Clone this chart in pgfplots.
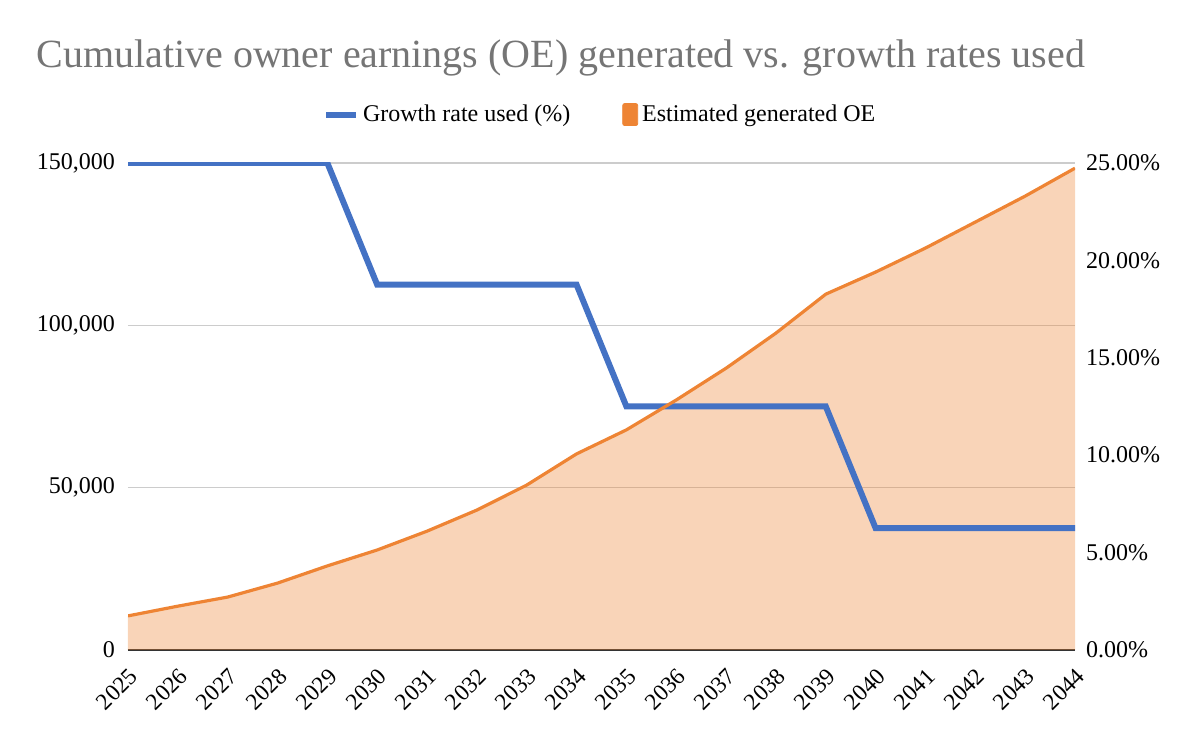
\documentclass[border=0pt]{standalone}
\usepackage{pgfplots}
\usepackage{pgfplotstable}
\pgfplotsset{compat=1.18}
\usepackage{fontspec}
\setmainfont{Liberation Serif}
\definecolor{oeorange}{HTML}{EE8434}
\definecolor{grblue}{HTML}{4472C4}
\definecolor{gridgray}{HTML}{CCCCCC}
\definecolor{titlegray}{HTML}{757575}
\pgfplotstableread{
x oe
2025 10500
2026 13500
2027 16300
2028 20600
2029 25900
2030 30800
2031 36600
2032 43100
2033 50800
2034 60400
2035 67800
2036 77000
2037 86800
2038 97600
2039 109600
2040 116400
2041 123800
2042 131800
2043 139800
2044 148400
}\oedata
\pgfplotstableread{
x g
2025 25
2026 25
2027 25
2028 25
2029 25
2030 18.75
2031 18.75
2032 18.75
2033 18.75
2034 18.75
2035 12.5
2036 12.5
2037 12.5
2038 12.5
2039 12.5
2040 6.25
2041 6.25
2042 6.25
2043 6.25
2044 6.25
}\grdata
\begin{document}
\begin{tikzpicture}[x=1pt,y=1pt]
\useasboundingbox (0,0) rectangle (600,371);
\pgfplotsset{
  base/.style={
    at={(64pt,46pt)}, anchor=south west,
    width=473.5pt, height=243.5pt, scale only axis,
    xmin=2025, xmax=2044,
    /pgf/number format/assume math mode=true,
    tick label style={font=\fontsize{12}{14}\selectfont},
  }
}
\begin{axis}[base,
  ymin=0, ymax=150000,
  ytick={0,50000,100000,150000},
  yticklabels={0,{50,000},{100,000},{150,000}},
  yticklabel style={xshift=-3pt},
  scaled y ticks=false,
  ymajorgrids, grid style={gridgray, line width=0.6pt},
  xtick={2025,...,2044},
  xticklabel={\pgfmathprintnumber[1000 sep={}]{\tick}},
  xticklabel style={font=\fontsize{11.7}{13}\selectfont, xshift=0pt, yshift=-3.5pt, rotate=45, anchor=north east},
  axis x line*=bottom, x axis line style={-, draw=black!80, line width=1.2pt},
  axis y line*=left, y axis line style={draw=none},
  major tick length=0pt,
]
\addplot[draw=none, fill=oeorange, fill opacity=0.35] table[x=x,y=oe]{\oedata} \closedcycle;
\end{axis}
\begin{axis}[base,
  ymin=0, ymax=25,
  ytick={0,5,10,15,20,25},
  yticklabel={\pgfmathprintnumber[fixed,fixed zerofill,precision=2]{\tick}\%},
  yticklabel style={xshift=2pt},
  axis y line*=right, y axis line style={draw=none},
  axis x line=none,
  major tick length=0pt,
  legend columns=2,
  legend style={draw=none, at={(0.4997,1.062)}, anchor=south, font=\fontsize{12}{14}\selectfont,
    /tikz/every even column/.append style={column sep=24pt}},
  legend image code/.code={\path (0pt,0pt) -- (15pt,0pt); \draw[#1] (0pt,0pt) -- (10pt,0pt);},
]
\addplot[grblue, line width=3pt, line join=miter] table[x=x,y=g]{\grdata};
\addlegendentry{Growth rate used (\%)}
\addlegendimage{legend image code/.code={\fill[oeorange, rounded corners=1pt] (2pt,-5.5pt) rectangle (9.5pt,5.5pt);}}
\addlegendentry{Estimated generated OE}
\end{axis}
\begin{axis}[base, hide axis, ymin=0, ymax=150000]
\addplot[oeorange, line width=1.6pt] table[x=x,y=oe]{\oedata};
\end{axis}
\node[anchor=west, text=titlegray, font=\fontsize{20}{24}\selectfont, inner sep=0pt] at (18pt,342pt) {Cumulative owner earnings (OE) generated vs. growth rates used};
\end{tikzpicture}
\end{document}
